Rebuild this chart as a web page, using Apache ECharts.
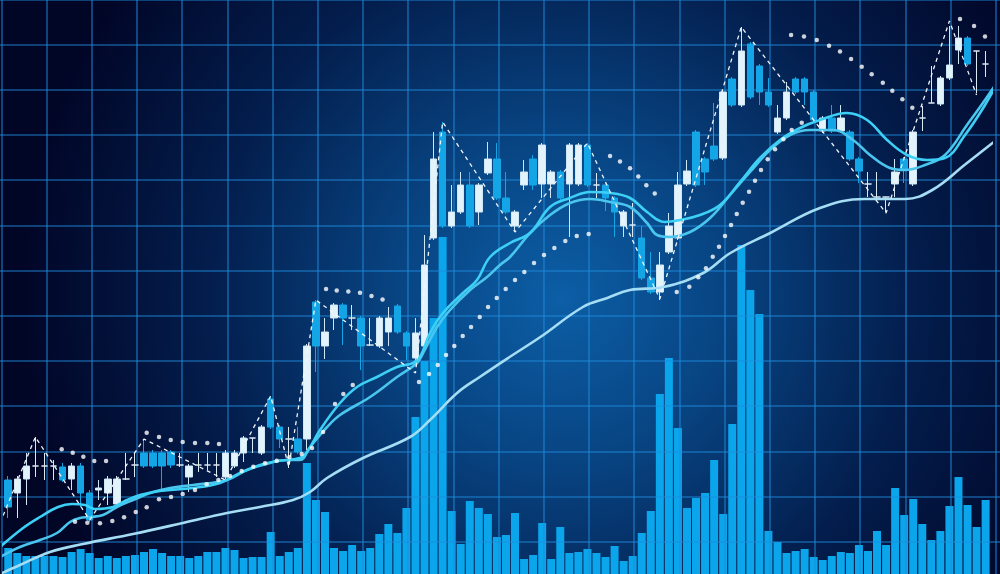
<!DOCTYPE html>
<html>
<head>
<meta charset="utf-8">
<script src="https://cdn.jsdelivr.net/npm/echarts@6/dist/echarts.min.js"></script>
<style>
html,body{margin:0;padding:0;background:#010626;}
#chart{width:1000px;height:574px;}
</style>
</head>
<body>
<div id="chart"></div>
<script>
// ---- data (price units: 0..574, volume units: 0..574) ----
const categories = Array.from({length:109}, (_, i) => 'T' + (i + 1));

const opens  = [94,81,95,108,108,108,107,95,108,81,84,81,70,95,109,121,121,121,122,109,97,109,109,109,97,108,121,136,121,175,147,135,135,135,272,228,256,269,256,256,229,228,242,268,241,216,228,336,442,348,362,389,362,401,415,376,348,389,415,390,390,402,390,390,429,389,389,376,348,349,336,296,282,322,336,390,442,415,428,416,495,469,530,508,482,442,456,495,495,482,443,456,443,442,415,390,377,377,390,415,390,456,471,470,496,524,536,523,510];
const closes = [67,95,108,108,108,108,94,108,81,54,86,95,95,95,109,108,108,108,109,109,108,109,109,109,121,121,136,136,147,147,135,135,122,228,228,242,269,256,256,228,229,256,256,242,228,241,309,415,348,362,389,348,389,415,376,362,362,402,389,429,402,376,429,429,389,389,376,362,362,349,296,282,309,348,389,403,389,402,415,482,469,523,477,482,469,456,482,482,482,454,456,443,456,415,403,390,377,377,402,404,442,456,471,496,509,536,510,523,510];
const lows   = [56,56,69,97,94,94,92,84,67,52,74,69,68,94,97,106,106,84,106,107,82,102,104,97,94,106,112,121,119,145,126,106,120,124,202,215,244,229,244,204,228,226,228,240,214,211,226,334,346,346,360,346,349,399,374,360,342,384,384,376,376,374,337,388,387,376,363,337,337,337,294,280,274,320,334,388,387,389,413,414,467,467,475,469,467,440,454,480,469,452,441,441,441,413,391,377,375,362,377,391,388,443,471,468,494,510,508,481,497];
const highs  = [98,98,121,137,121,114,111,111,111,84,94,98,98,121,121,135,124,124,124,121,110,121,121,121,124,124,138,136,149,178,149,147,147,230,274,256,271,271,269,258,256,258,267,270,243,256,339,442,452,389,402,402,391,432,431,402,364,414,419,431,404,404,431,431,431,401,391,378,364,371,348,322,322,361,402,414,444,417,471,484,497,547,532,510,496,469,492,497,497,484,458,469,469,444,417,402,402,377,415,417,444,468,508,498,548,548,538,523,523];
const volumes = [26,21,18,18,18,18,17,22,25,21,16,18,16,18,19,22,25,21,18,18,16,18,22,22,26,24,16,17,17,42,18,22,26,111,74,62,26,23,29,23,26,40,50,41,66,157,213,256,337,63,30,73,66,60,37,39,61,15,19,51,15,47,21,22,25,21,17,28,13,18,41,63,180,216,146,66,76,81,114,60,150,329,284,260,43,32,21,23,25,17,14,18,22,21,29,23,43,29,86,59,75,50,34,43,68,97,69,47,74];

// moving averages as [candle position, price]
const maFast = [[-0.91,27],[1.64,46],[3.51,57],[5.5,67],[7.05,70],[8.49,69],[9.59,65],[11.58,67],[13.13,74],[14.56,79],[16.77,83],[20.42,86],[23.4,91],[25.61,101],[27.82,109],[29.7,113],[32.24,116],[33.02,122],[34.45,144],[36.66,171],[38.54,187],[40.75,197],[42.96,207],[44.73,211],[45.5,217],[46.61,241],[48.04,261],[50.25,281],[51.8,294],[53.24,317],[55.45,331],[57.66,341],[59.87,367],[62.08,376],[64.29,382],[66.5,381],[68.71,376],[70.59,362],[72.57,352],[74.23,354],[76.44,359],[78.65,369],[80.86,392],[83.07,416],[85.28,434],[87.49,446],[89.7,454],[92.69,461],[94.9,454],[97.11,434],[99.32,419],[101.52,414],[103.51,416],[105.72,439],[107.93,469],[109.59,496]];
const maMid = [[-0.91,17],[1.3,27],[3.51,34],[5.39,41],[6.83,52],[7.93,56],[9.04,57],[10.48,59],[12.02,67],[13.79,74],[16.0,82],[17.88,86],[20.42,89],[24.18,94],[26.39,104],[28.93,111],[30.81,114],[32.24,114],[33.35,127],[35.23,147],[36.66,159],[39.98,177],[42.96,197],[45.17,211],[45.84,221],[47.38,247],[48.82,264],[51.03,284],[52.91,297],[54.34,309],[55.45,317],[57.66,341],[59.87,359],[62.08,371],[64.29,375],[66.5,372],[68.71,367],[70.59,351],[71.69,339],[73.13,337],[75.34,342],[77.55,356],[79.76,379],[81.97,402],[84.18,424],[86.39,439],[88.6,444],[91.14,444],[93.35,434],[95.22,419],[97.43,406],[99.1,404],[101.3,409],[103.51,419],[105.94,449],[107.93,474],[109.59,496]];
const maSlow = [[-0.91,0],[1.3,9],[4.62,22],[8.27,30],[13.79,40],[19.31,51],[24.18,61],[27.82,67],[31.47,74],[33.35,82],[35.23,96],[39.2,116],[44.4,137],[46.6,154],[49.6,181],[52.1,197],[55.4,217],[58.8,237],[63.5,267],[66.2,276],[68.7,284],[72.4,287],[76.8,301],[79.8,321],[84.2,341],[89.7,366],[94.6,375],[99.1,375],[102.1,384],[105.8,410],[109.6,437]];

// dashed zigzag through swing highs and lows
const zigzag = [[-0.9,51],[3,137],[9,54],[15,135],[24,94],[29,178],[31,107],[34,274],[45,201],[48,452],[56,342],[64,431],[72,275],[81,547],[97,361],[104,553],[107,479]];

// white dotted markers
const dots = [[5.91,124.7],[7.13,121.3],[8.3,117.3],[9.51,113],[10.81,113],
 [7.38,52.3],[8.74,51.3],[10.14,50.7],[11.5,53],[12.8,56.7],[14.09,62],[15.3,66.7],[16.66,74.7],[17.99,77],[19.28,80],[20.64,84],[21.93,89.7],[23.22,94],[24.51,98],[25.8,103],[27.08,107.3],[28.38,110.7],[29.67,113.3],[31.06,116.7],
 [32.43,120],[33.57,126],[34.79,142],
 [15.3,141.3],[16.66,137],[17.96,134],[19.28,132],[20.64,131],[22.0,131],[23.29,130],
 [35.12,285],[36.3,283.5],[37.58,282.5],[38.87,281.3],[40.14,278],[41.36,274.5],
 [36.11,170],[37.03,180],[38.07,189],
 [45.39,192],[46.5,200],[47.46,209],[48.38,219],[49.29,228],[50.22,238],[51.14,247],[52.1,257],[53.02,267],[53.98,276],[54.97,285],[56.0,294],[57.03,302],[58.1,311],[59.2,319],[60.35,326],[61.56,333],[62.82,338],[64.14,340],
 [66.5,418],[67.6,412.5],[68.71,405.7],[69.62,397.5],[70.51,388.7],[71.44,380.5],
 [73.87,282],[75.26,287.3],[76.25,296.7],[77.1,305.7],[77.85,317.3],[78.54,327.3],[79.2,338],[79.87,349],[80.5,360],[81.16,371.3],[81.86,382.3],[82.52,393.3],[83.18,404],[83.92,414.7],[84.73,424.7],[85.65,434.7],[86.57,444],[87.68,451.3],
 [86.5,539],[87.93,537.5],[89.34,534],[90.7,528.3],[91.91,522.5],[93.13,515],[94.31,507.3],[95.41,499.7],[96.64,491.3],[97.69,483.3],[98.8,474.7],[99.9,466.3],
 [105.17,555],[106.72,548],[107.93,537.5]];

const candleData = opens.map((o, i) => [o, closes[i], lows[i], highs[i]]);

const chart = echarts.init(document.getElementById('chart'), null, {renderer: 'canvas'});
const hidden = {show: false};
chart.setOption({
  animation: false,
  backgroundColor: {
    type: 'radial', x: 0.56, y: 0.52, r: 0.95,
    colorStops: [
      {offset: 0, color: '#0c5ea6'},
      {offset: 0.3, color: '#084482'},
      {offset: 0.65, color: '#031d4c'},
      {offset: 1, color: '#010526'}
    ]
  },
  grid: [
    {left: 3.7, width: 986.45, top: 0, height: 574, containLabel: false, outerBoundsMode: 'none'},
    {left: -43.9, width: 1084.8, top: -45.9, height: 678, containLabel: false, outerBoundsMode: 'none'}
  ],
  xAxis: [
    {type: 'category', gridIndex: 0, data: categories, show: false, boundaryGap: true},
    {type: 'value', gridIndex: 0, min: -0.5, max: 108.5, show: false, position: 'top'},
    {type: 'value', gridIndex: 1, min: 0, max: 24, interval: 1, z: 2,
     axisLine: hidden, axisTick: hidden, axisLabel: hidden,
     splitLine: {show: true, lineStyle: {color: 'rgba(32,140,220,0.6)', width: 1.6}}}
  ],
  yAxis: [
    {type: 'value', gridIndex: 0, min: 0, max: 574, show: false},
    {type: 'value', gridIndex: 0, min: 0, max: 574, show: false},
    {type: 'value', gridIndex: 1, min: 0, max: 15, interval: 1, z: 2,
     axisLine: hidden, axisTick: hidden, axisLabel: hidden,
     splitLine: {show: true, lineStyle: {color: 'rgba(32,140,220,0.6)', width: 1.6}}}
  ],
  series: [
    {type: 'bar', xAxisIndex: 0, yAxisIndex: 1, data: volumes, barWidth: 8, z: 1,
     itemStyle: {color: '#0aa5ea'}},
    {type: 'candlestick', xAxisIndex: 0, yAxisIndex: 0, data: candleData, barWidth: 7, z: 4,
     itemStyle: {color: '#e3f3fc', color0: '#14a5e6', borderColor: '#cfe6f4', borderColor0: '#14a5e6',
                 borderColorDoji: '#dde9f1', borderWidth: 1}},
    {type: 'line', xAxisIndex: 1, yAxisIndex: 0, data: maSlow, smooth: 0.4, symbol: 'none', clip: false, z: 5,
     lineStyle: {color: '#a5ddf4', width: 2.6}},
    {type: 'line', xAxisIndex: 1, yAxisIndex: 0, data: maMid, smooth: 0.4, symbol: 'none', clip: false, z: 5,
     lineStyle: {color: '#4ac6ee', width: 2.6}},
    {type: 'line', xAxisIndex: 1, yAxisIndex: 0, data: maFast, smooth: 0.4, symbol: 'none', clip: false, z: 5,
     lineStyle: {color: '#3dd0f6', width: 2.6}},
    {type: 'line', xAxisIndex: 1, yAxisIndex: 0, data: zigzag, symbol: 'none', clip: false, z: 6,
     lineStyle: {color: '#f2f6fa', width: 1.3, type: [4, 4]}},
    {type: 'scatter', xAxisIndex: 1, yAxisIndex: 0, data: dots, symbolSize: 4.5, z: 7,
     itemStyle: {color: '#ffffff'}}
  ]
});
</script>
</body>
</html>
